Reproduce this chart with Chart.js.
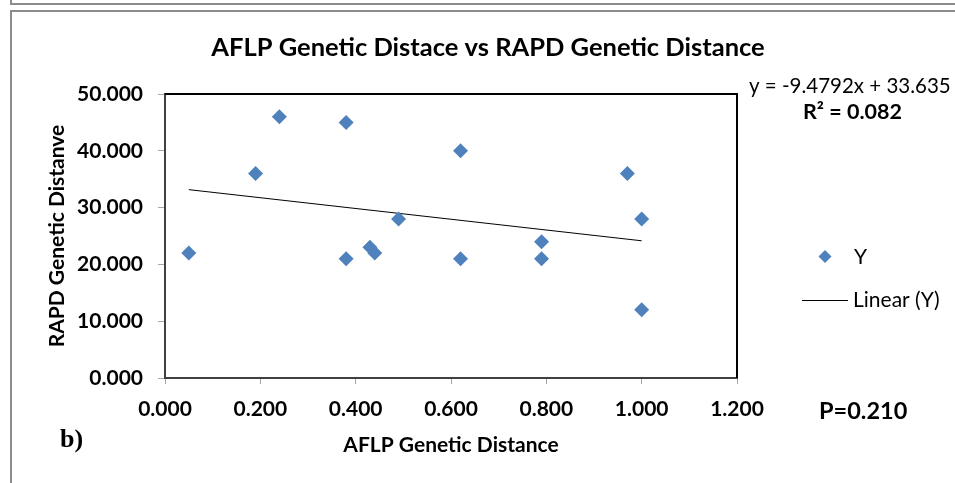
<!DOCTYPE html>
<html>
<head>
<meta charset="utf-8">
<title>AFLP vs RAPD Genetic Distance</title>
<script src="https://cdn.jsdelivr.net/npm/chart.js@4.4.1/dist/chart.umd.min.js"></script>
<style>
  html, body { margin: 0; padding: 0; background: #fff; }
  #wrap { width: 955px; height: 483px; position: relative; }
</style>
</head>
<body>
<div id="wrap"><canvas id="distChart" width="955" height="483"></canvas></div>
<script>
// AFLP (x) and RAPD (y) pairwise genetic distances
const aflpDistance = [0.05, 0.19, 0.24, 0.38, 0.38, 0.43, 0.44, 0.49, 0.62, 0.62, 0.79, 0.79, 0.97, 1.0, 1.0];
const rapdDistance = [22, 36, 46, 45, 21, 23, 22, 28, 21, 40, 24, 21, 36, 28, 12];

// Excel linear trendline
const trendSlope = -9.4792;
const trendIntercept = 33.635;
const rSquared = "0.082";
const pValue = "0.210";

const xTicks = [0, 0.2, 0.4, 0.6, 0.8, 1.0, 1.2];
const yTicks = [0, 10, 20, 30, 40, 50];

const pointColor = "#4F81BD";
const fontFamily = "Lato, 'Open Sans', sans-serif";

const points = aflpDistance.map((x, i) => ({ x: x, y: rapdDistance[i] }));
const xMin = Math.min(...aflpDistance);
const xMax = Math.max(...aflpDistance);
const trendPoints = [xMin, xMax].map((x) => ({ x: x, y: trendSlope * x + trendIntercept }));

// frame, plot box edges, title and side texts
const decorPlugin = {
  id: "decor",
  beforeDraw(chart) {
    const ctx = chart.ctx;
    ctx.save();
    ctx.fillStyle = "#fff";
    ctx.fillRect(0, 0, chart.width, chart.height);
    ctx.strokeStyle = "#8c8c8c";
    ctx.lineWidth = 2;
    ctx.beginPath();
    ctx.moveTo(11, 0);
    ctx.lineTo(11, 4);
    ctx.lineTo(chart.width, 4);
    ctx.moveTo(chart.width, 11);
    ctx.lineTo(11, 11);
    ctx.lineTo(11, chart.height);
    ctx.stroke();
    ctx.restore();
  },
  afterDraw(chart) {
    const ctx = chart.ctx;
    const area = chart.chartArea;
    ctx.save();

    ctx.strokeStyle = "#000";
    ctx.lineWidth = 2;
    ctx.beginPath();
    ctx.moveTo(area.left, area.top);
    ctx.lineTo(area.right, area.top);
    ctx.lineTo(area.right, area.bottom);
    ctx.stroke();

    ctx.fillStyle = "#000";
    ctx.textBaseline = "middle";
    ctx.textAlign = "center";
    ctx.font = "bold 25.5px " + fontFamily;
    ctx.fillText("AFLP Genetic Distace vs RAPD Genetic Distance", 488, 48);

    ctx.textAlign = "left";
    ctx.font = "20.5px " + fontFamily;
    ctx.fillText("y = " + trendSlope + "x + " + trendIntercept, 749, 86);
    ctx.font = "bold 21.5px " + fontFamily;
    ctx.fillText("R\u00B2 = " + rSquared, 803, 112);
    ctx.font = "bold 23.5px " + fontFamily;
    ctx.fillText("P=" + pValue, 819, 411);

    // legend
    ctx.fillStyle = pointColor;
    ctx.beginPath();
    ctx.moveTo(825, 250);
    ctx.lineTo(831.5, 256.5);
    ctx.lineTo(825, 263);
    ctx.lineTo(818.5, 256.5);
    ctx.closePath();
    ctx.fill();
    ctx.strokeStyle = "#000";
    ctx.lineWidth = 1;
    ctx.beginPath();
    ctx.moveTo(802, 300.5);
    ctx.lineTo(848, 300.5);
    ctx.stroke();
    ctx.fillStyle = "#000";
    ctx.font = "21px " + fontFamily;
    ctx.fillText("Y", 854, 257);
    ctx.fillText("Linear (Y)", 853, 300);

    ctx.font = "bold 26px 'Liberation Serif', serif";
    ctx.fillText("b)", 60, 440);
    ctx.restore();
  },
};

new Chart(document.getElementById("distChart"), {
  type: "scatter",
  data: {
    datasets: [
      {
        label: "Y",
        data: points,
        pointStyle: "rectRot",
        pointRadius: 7.5,
        pointHoverRadius: 7.5,
        backgroundColor: pointColor,
        borderColor: pointColor,
        borderWidth: 0,
      },
      {
        type: "line",
        label: "Linear (Y)",
        data: trendPoints,
        borderColor: "#000",
        borderWidth: 1,
        pointRadius: 0,
        fill: false,
      },
    ],
  },
  options: {
    responsive: false,
    animation: false,
    layout: { padding: { left: 0, right: 218, top: 94, bottom: 0 } },
    plugins: {
      legend: { display: false },
      tooltip: { enabled: false },
    },
    scales: {
      x: {
        type: "linear",
        min: xTicks[0],
        max: xTicks[xTicks.length - 1],
        afterFit: (scale) => { scale.height = 105; },
        afterBuildTicks: (scale) => { scale.ticks = xTicks.map((v) => ({ value: v })); },
        grid: { drawOnChartArea: false, drawTicks: true, tickLength: 6, tickColor: "#a6a6a6" },
        border: { display: true, color: "#404040", width: 2 },
        ticks: {
          padding: 13,
          color: "#000",
          font: { family: fontFamily, size: 21, weight: "bold" },
          callback: (v) => Number(v).toFixed(3),
        },
        title: {
          display: true,
          text: "AFLP Genetic Distance",
          color: "#000",
          font: { family: fontFamily, size: 21, weight: "bold" },
          padding: { top: 0, bottom: 25 },
        },
      },
      y: {
        min: yTicks[0],
        max: yTicks[yTicks.length - 1],
        afterFit: (scale) => { scale.width = 165; },
        afterBuildTicks: (scale) => { scale.ticks = yTicks.map((v) => ({ value: v })); },
        grid: { drawOnChartArea: false, drawTicks: true, tickLength: 7, tickColor: "#a6a6a6" },
        border: { display: true, color: "#404040", width: 2 },
        ticks: {
          padding: 15,
          color: "#000",
          font: { family: fontFamily, size: 21, weight: "bold" },
          callback: (v) => Number(v).toFixed(3),
        },
        title: {
          display: true,
          text: "RAPD Genetic Distanve",
          color: "#000",
          font: { family: fontFamily, size: 21, weight: "bold" },
          padding: { top: 45, bottom: 0 },
        },
      },
    },
  },
  plugins: [decorPlugin],
});
</script>
</body>
</html>
